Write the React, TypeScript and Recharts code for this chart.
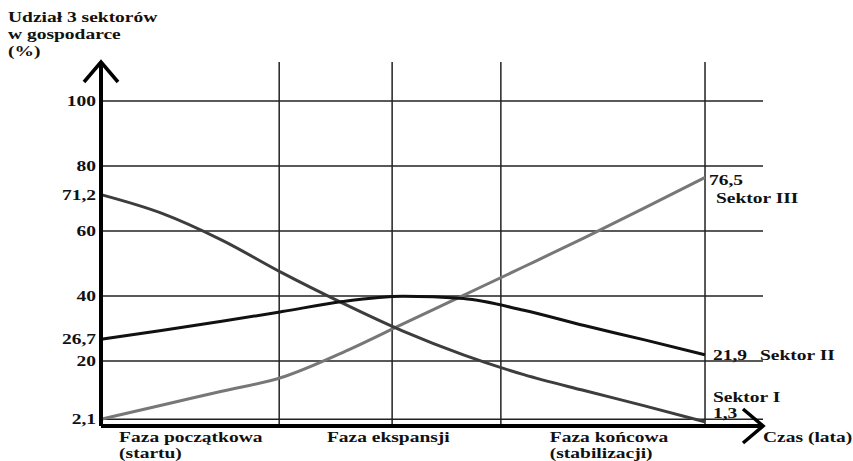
import { LineChart, Line, XAxis, YAxis, ReferenceLine, Label } from 'recharts';

// ── Data ──────────────────────────────────────────────────────────────────

const time = [0, 10, 20, 30, 40, 50, 60, 70, 80, 90, 100];
const sektorI = [71.2, 65.5, 57.2, 47.1, 37.8, 29.2, 21.9, 15.8, 10.9, 6.2, 1.3];
const sektorII = [26.7, 29.4, 32.2, 35.2, 38.3, 39.9, 39.2, 35.6, 30.9, 26.5, 21.9];
const sektorIII = [2.1, 6.4, 10.7, 15.0, 22.6, 31.4, 40.2, 49.0, 57.9, 67.1, 76.5];

const yTicks = [2.1, 20, 26.7, 40, 60, 71.2, 80, 100];
const gridValues = [2.1, 20, 40, 60, 80, 100];
const phaseLines = [29.5, 48.2, 66.2, 100];
const phaseStarts = [3, 37.4, 74.3];
const phaseNames = ['Faza początkowa', 'Faza ekspansji', 'Faza końcowa'];
const phaseNotes = ['(startu)', '', '(stabilizacji)'];
const titleLines = ['Udział 3 sektorów', 'w gospodarce', '(%)'];
const xName = 'Czas (lata)';

const data = time.map((t, i) => ({ t, s1: sektorI[i], s2: sektorII[i], s3: sektorIII[i] }));

// ── Text helpers — the scan is stretched sideways, so stretch the glyphs too ──

const FONT = '"Liberation Serif", "Times New Roman", serif';
const SX = 1.3;

function T({ x, y, anchor = 'start', children }: { x: number; y: number; anchor?: string; children: any }) {
  return (
    <text
      transform={`translate(${x},${y}) scale(${SX},1)`}
      textAnchor={anchor as any}
      fontFamily={FONT}
      fontWeight="bold"
      fontSize={15}
      fill="#111"
    >
      {children}
    </text>
  );
}

const fmt = (v: number) => String(v).replace('.', ',');

function YTick({ x, y, payload }: any) {
  return <T x={x} y={y + 5} anchor="end">{fmt(payload.value)}</T>;
}

function XTick({ x, y, payload }: any) {
  const i = phaseStarts.indexOf(payload.value);
  if (i < 0) return null;
  return (
    <g>
      <T x={x} y={y + 12}>{phaseNames[i]}</T>
      {phaseNotes[i] && <T x={x} y={y + 28}>{phaseNotes[i]}</T>}
    </g>
  );
}

function Title({ viewBox }: any) {
  const top = viewBox?.y ?? 62;
  return (
    <g>
      {titleLines.map((s, i) => (
        <T key={s} x={8} y={top - 40 + i * 17}>{s}</T>
      ))}
    </g>
  );
}

function XName({ viewBox }: any) {
  const vb = viewBox ?? { x: 101, y: 426, width: 662 };
  return <T x={vb.x + vb.width} y={vb.y + 16}>{xName}</T>;
}

// end-of-line labels: value + sector name
const endLabel = (name: string, vdx: number, vdy: number, ndx: number, ndy: number) =>
  (props: any) => {
    if (props.index !== time.length - 1) return null;
    return (
      <g>
        <T x={props.x + vdx} y={props.y + vdy}>{fmt(props.value)}</T>
        <T x={props.x + ndx} y={props.y + ndy}>{name}</T>
      </g>
    );
  };

const gridStroke = { stroke: '#222', strokeWidth: 1.5 };
const axisStroke = { stroke: '#000', strokeWidth: 4 };

export default function App() {
  return (
    <div style={{ position: 'absolute', left: 0, top: 0, width: 853, height: 461, background: '#fff' }}>
      <LineChart width={853} height={461} data={data} margin={{ top: 62, right: 90, bottom: 5, left: 0 }}>
        <defs>
          <marker
            id="arrow"
            viewBox="-24 -20 28 40"
            markerWidth={28}
            markerHeight={40}
            refX={0}
            refY={0}
            markerUnits="userSpaceOnUse"
            orient="auto-start-reverse"
            overflow="visible"
          >
            <path d="M -20 -17 L 0 0 L -20 17" fill="none" stroke="#000" strokeWidth={3.5} />
          </marker>
        </defs>
        <XAxis
          type="number"
          dataKey="t"
          domain={[0, 109.6]}
          ticks={phaseStarts}
          interval={0}
          tick={<XTick />}
          tickLine={false}
          tickSize={0}
          tickMargin={4}
          height={30}
          axisLine={{ ...axisStroke, markerEnd: 'url(#arrow)' } as any}
        >
          <Label content={XName as any} />
        </XAxis>
        <YAxis
          type="number"
          domain={[0, 112]}
          ticks={yTicks}
          interval={0}
          width={101}
          tick={<YTick />}
          tickLine={false}
          tickSize={0}
          tickMargin={5}
          axisLine={{ ...axisStroke, markerStart: 'url(#arrow)' } as any}
        >
          <Label content={Title as any} />
        </YAxis>
        {gridValues.map((v) => <ReferenceLine key={'h' + v} y={v} {...gridStroke} />)}
        {phaseLines.map((v) => <ReferenceLine key={'v' + v} x={v} {...gridStroke} />)}
        <Line
          type="monotone"
          dataKey="s3"
          stroke="#777"
          strokeWidth={3}
          dot={false}
          isAnimationActive={false}
          label={endLabel('Sektor III', 4, 8, 11, 26)}
        />
        <Line
          type="monotone"
          dataKey="s1"
          stroke="#3d3d3d"
          strokeWidth={3}
          dot={false}
          isAnimationActive={false}
          label={endLabel('Sektor I', 8, -4, 8, -20)}
        />
        <Line
          type="monotone"
          dataKey="s2"
          stroke="#111"
          strokeWidth={3}
          dot={false}
          isAnimationActive={false}
          label={endLabel('Sektor II', 8, 5, 55, 5)}
        />
      </LineChart>
    </div>
  );
}
